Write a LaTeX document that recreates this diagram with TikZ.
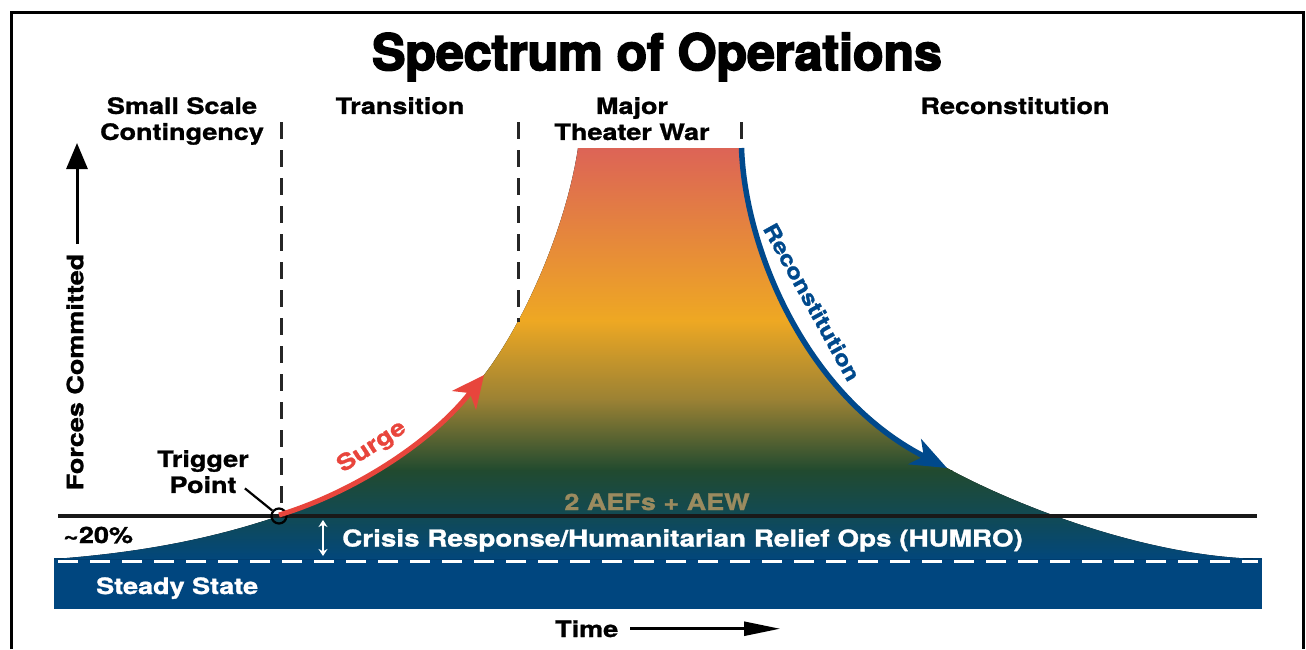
\documentclass[tikz,border=0pt]{standalone}
\usepackage{fontspec}
\usetikzlibrary{arrows.meta}
\newfontfamily\hvb{TeX Gyre Heros}[FakeStretch=1.2,FakeBold=1.2]
\newfontfamily\hvtitle{TeX Gyre Heros}[FakeBold=3.5]
\definecolor{warA}{HTML}{DC6357}
\definecolor{warB}{HTML}{EEA823}
\definecolor{warC}{HTML}{9A8134}
\definecolor{warD}{HTML}{214A2F}
\definecolor{warE}{HTML}{114A55}
\definecolor{warF}{HTML}{02477C}
\definecolor{steadyblue}{HTML}{00467F}
\definecolor{surgered}{HTML}{E8453C}
\definecolor{reconblue}{HTML}{00498C}
\definecolor{aeftan}{HTML}{9B8B5F}
\tikzset{lbl/.style={inner sep=0pt,font=\hvb\bfseries\fontsize{22.5}{26}\selectfont}}
\tikzset{vdash/.style={line width=3pt,dash pattern=on 17pt off 11pt,black!85}}
\tikzset{surgearrow/.style={draw=surgered,line width=5pt,-{Stealth[length=32pt,width=30pt,inset=9pt]}}}
\tikzset{reconarrow/.style={draw=reconblue,line width=5.5pt,-{Stealth[length=36pt,width=28pt,inset=10pt]}}}

\begin{document}
\begin{tikzpicture}[x=1pt,y=-1pt]
  \useasboundingbox (0,0) rectangle (1306,649);
  \draw[line width=3pt] (11,649) -- (11,12) -- (1303,12) -- (1303,649);

  \coordinate (trig) at (279,516);
  \coordinate (surgetip) at (484,375);
  \coordinate (topR) at (740,148);
  \coordinate (recontip) at (947,468);

  \fill[steadyblue] (54,558) rectangle (1262,609);
  \begin{scope}
    \clip (54,559) .. controls (150,552) and (220,536) .. (trig)
      .. controls (349,495) and (429,446) .. (surgetip)
      .. controls (524,323) and (566,228) .. (578,148) -- (topR)
      .. controls (743,250) and (805,398) .. (recontip)
      .. controls (1005,500) and (1140,557) .. (1262,559) -- cycle;
    \fill[top color=warA,bottom color=warB] (50,146) rectangle (1265,320.5);
    \fill[top color=warB,bottom color=warC] (50,320) rectangle (1265,400.5);
    \fill[top color=warC,bottom color=warD] (50,400) rectangle (1265,470.5);
    \fill[top color=warD,bottom color=warE] (50,470) rectangle (1265,516.5);
    \fill[top color=warE,bottom color=warF] (50,516) rectangle (1265,560);
  \end{scope}
  \draw[white,line width=3pt,dash pattern=on 20pt off 12pt] (58,561) -- (1258,561);
  \draw[black!90,line width=3.5pt] (58,516) -- (1257,516);

  \node[circle,draw,line width=2.2pt,minimum size=15pt,inner sep=0pt] (trigc) at (trig) {};
  \coordinate (d1) at (281,122);
  \coordinate (d2) at (518,122);
  \coordinate (d3) at (741,122);
  \draw[vdash] (d1) -- (d1 |- trigc.north);
  \draw[vdash] (d2) -- (518,322);
  \draw[vdash] (d3) -- (d3 |- topR);

  \draw[surgearrow] ([yshift=1pt]trig) .. controls (349,494) and (429,445) .. (surgetip);
  \draw[reconarrow] ([xshift=1.5pt]topR) .. controls (745,250) and (807,397) .. (recontip);

  \node[inner sep=0pt,font=\hvtitle\bfseries\fontsize{50}{54}\selectfont,anchor=base] (title) at (657,70) {Spectrum of Operations};
  \node[lbl,align=center,anchor=north] (ssc) at (182,97) {Small Scale\\Contingency};
  \node[lbl,anchor=north] (trans) at (400,97) {Transition};
  \node[lbl,align=center,anchor=north] (mtw) at (632,97) {Major\\Theater War};
  \node[lbl,anchor=north] (recon) at (1015,97) {Reconstitution};

  \node[lbl,rotate=90] (forces) at (75,372) {Forces Committed};
  \coordinate (ybase) at (77,244);
  \coordinate (ytip) at (77,143);
  \draw[line width=3pt,-{Stealth[length=26pt,width=21pt,inset=0pt]}] (ybase) -- (ytip);

  \node[lbl,align=center,anchor=north] (trigger) at (203,450) {Trigger\\Point};
  \draw[line width=2.2pt] ([xshift=-4pt,yshift=5pt]trigger.south east) -- (trigc);

  \node[lbl,text=surgered,rotate=33] (surge) at (372,447) {Surge};
  \node[lbl,text=reconblue,rotate=-61,font=\hvb\bfseries\fontsize{21}{24}\selectfont] (reconlbl) at (812,302) {Reconstitution};

  \node[lbl,text=aeftan,anchor=base] (aef) at (657,510) {2 AEFs + AEW};
  \node[lbl,text=white,anchor=base west,font=\hvb\bfseries\fontsize{23.2}{26}\selectfont] (humro) at (342,546.5) {Crisis Response/Humanitarian Relief Ops (HUMRO)};
  \coordinate (hu1) at (323,520);
  \coordinate (hu2) at (323,556);
  \draw[white,line width=1.8pt,{Stealth[length=7pt,width=9pt]}-{Stealth[length=7pt,width=9pt]}] (hu1) -- (hu2);
  \node[lbl,anchor=base west] (pct) at (63,543) {\textasciitilde 20\%};
  \node[lbl,text=white,anchor=base west] (steady) at (96,594) {Steady State};

  \node[lbl,anchor=base west] (time) at (555,637) {Time};
  \coordinate (timeend) at (780,629);
  \draw[line width=2.5pt,-{Stealth[length=36pt,width=14pt,inset=0pt]}] ([xshift=12pt]time.east) -- (time.east -| timeend);
\end{tikzpicture}
\end{document}
